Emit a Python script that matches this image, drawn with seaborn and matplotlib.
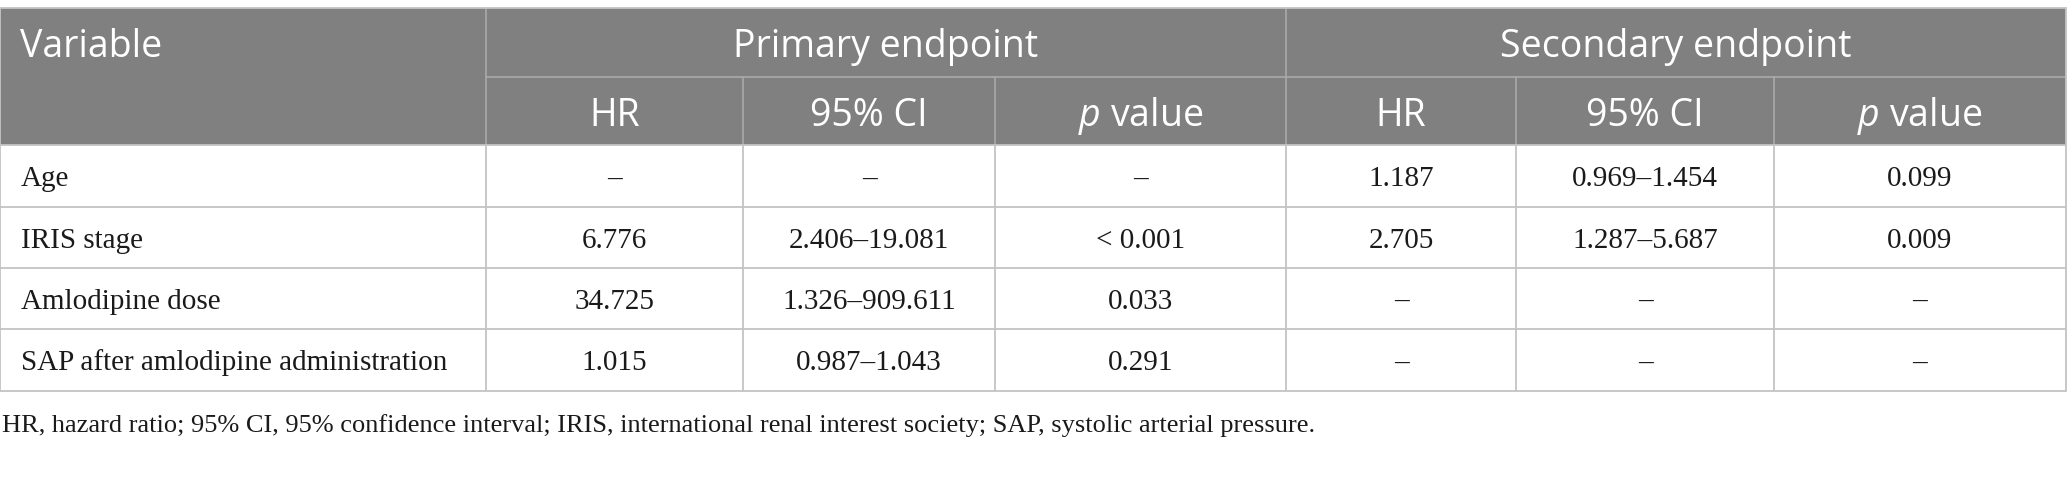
import numpy as np
import matplotlib
matplotlib.use("Agg")
import matplotlib.pyplot as plt
import seaborn as sns

# datos de la tabla
variables = ["Age", "IRIS stage", "Amlodipine dose", "SAP after amlodipine administration"]
grupos = ["Primary endpoint", "Secondary endpoint"]
subcols = ["HR", "95% CI", "$p$ value"]
primary_hr = ["–", "6.776", "34.725", "1.015"]
primary_ci = ["–", "2.406–19.081", "1.326–909.611", "0.987–1.043"]
primary_p = ["–", "< 0.001", "0.033", "0.291"]
secondary_hr = ["1.187", "2.705", "–", "–"]
secondary_ci = ["0.969–1.454", "1.287–5.687", "–", "–"]
secondary_p = ["0.099", "0.009", "–", "–"]
nota = ("HR, hazard ratio; 95% CI, 95% confidence interval; IRIS, international renal "
        "interest society; SAP, systolic arterial pressure.")

# layout en pixeles
W, H = 2067, 488
col_edges = [0, 486, 743, 995, 1286, 1516, 1774, 2066]
row_edges = [8, 77, 145, 207, 268, 329, 391]

header_bg = "#7f807f"
linea_body = "#c4c4c4"
linea_header = "#a9aaa9"

sns.set_style("white")
plt.rcParams["mathtext.fontset"] = "custom"
plt.rcParams["mathtext.rm"] = "Open Sans"
plt.rcParams["mathtext.it"] = "Open Sans:italic"

fig = plt.figure(figsize=(W / 100, H / 100), dpi=100)
ax = fig.add_axes([0, 0, 1, 1])
ax.set_xlim(0, W)
ax.set_ylim(H, 0)
ax.axis("off")

# fondo del encabezado
ax.fill_between([col_edges[0], col_edges[-1]], row_edges[0], row_edges[2],
                color=header_bg, lw=0, zorder=1)

# lineas del encabezado
ax.plot([col_edges[1], col_edges[-1]], [row_edges[1]] * 2, color=linea_header, lw=1.2, zorder=2)
ax.plot([col_edges[1]] * 2, [row_edges[0], row_edges[2]], color=linea_header, lw=1.2, zorder=2)
ax.plot([col_edges[4]] * 2, [row_edges[0], row_edges[2]], color=linea_header, lw=1.2, zorder=2)
for c in [2, 3, 5, 6]:
    ax.plot([col_edges[c]] * 2, [row_edges[1], row_edges[2]], color=linea_header, lw=1.2, zorder=2)

# grilla del cuerpo
for r in row_edges[2:]:
    ax.plot([col_edges[0], col_edges[-1]], [r, r], color=linea_body, lw=1.3, zorder=2)
for c in col_edges:
    ax.plot([c, c], [row_edges[2], row_edges[-1]], color=linea_body, lw=1.3, zorder=2)
ax.plot([col_edges[0], col_edges[-1]], [row_edges[0]] * 2, color=linea_body, lw=1.3, zorder=3)
ax.plot([col_edges[0]] * 2, [row_edges[0], row_edges[2]], color=linea_body, lw=1.3, zorder=3)
ax.plot([col_edges[-1]] * 2, [row_edges[0], row_edges[2]], color=linea_body, lw=1.3, zorder=3)

head_font = dict(family="Open Sans", size=27, color="white", zorder=4)
body_font = dict(family="Liberation Serif", size=21, color="#1a1a1a", zorder=4)

# encabezado
ax.text(20, 57, "Variable", ha="left", va="baseline", **head_font)
ax.text((col_edges[1] + col_edges[4]) / 2, 57, grupos[0], ha="center", va="baseline", **head_font)
ax.text((col_edges[4] + col_edges[7]) / 2, 57, grupos[1], ha="center", va="baseline", **head_font)
for g in range(2):
    for k, lab in enumerate(subcols):
        c = 1 + 3 * g + k
        ax.text((col_edges[c] + col_edges[c + 1]) / 2, 126, lab,
                ha="center", va="baseline", **head_font)

# cuerpo
columnas = [primary_hr, primary_ci, primary_p, secondary_hr, secondary_ci, secondary_p]
for i, var in enumerate(variables):
    yb = (row_edges[2 + i] + row_edges[3 + i]) / 2 + 10.5
    ax.text(21, yb, var, ha="left", va="baseline", **body_font)
    for j, col in enumerate(columnas):
        ax.text((col_edges[j + 1] + col_edges[j + 2]) / 2, yb, col[i],
                ha="center", va="baseline", **body_font)

# nota al pie
ax.text(2, 432, nota, ha="left", va="baseline",
        family="Liberation Serif", size=19, color="#1a1a1a")

fig.savefig("out.png", dpi=100)
